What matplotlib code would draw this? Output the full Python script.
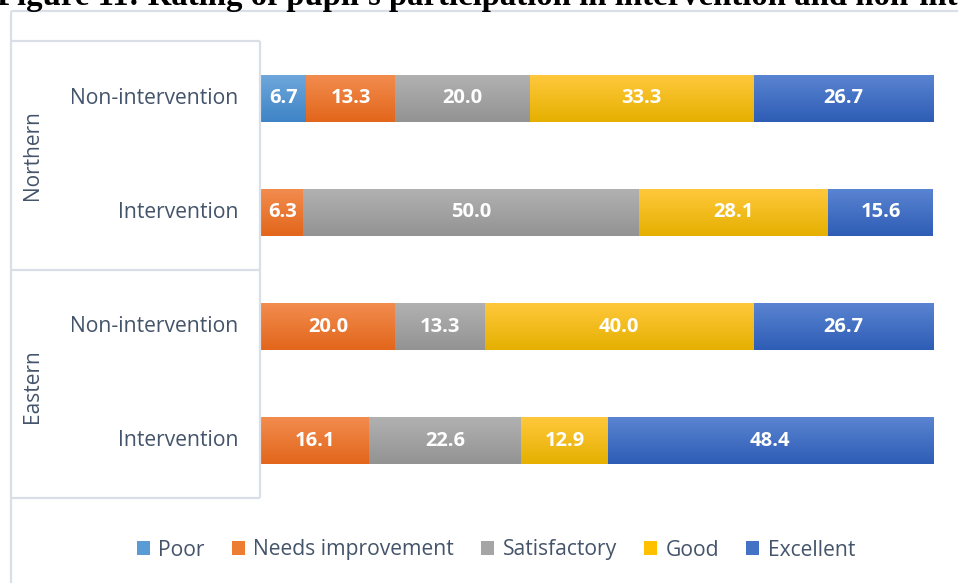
import numpy as np
import matplotlib
matplotlib.use('Agg')
import matplotlib.pyplot as plt
from matplotlib.colors import to_rgb
from matplotlib.lines import Line2D
from matplotlib.patches import Patch

# ratings (%) per region and group, top row first
regions = ['Northern', 'Eastern']
rows = ['Non-intervention', 'Intervention', 'Non-intervention', 'Intervention']
categories = ['Poor', 'Needs improvement', 'Satisfactory', 'Good', 'Excellent']
poor = [6.7, 0, 0, 0]
needs_improvement = [13.3, 6.3, 20.0, 16.1]
satisfactory = [20.0, 50.0, 13.3, 22.6]
good = [33.3, 28.1, 40.0, 12.9]
excellent = [26.7, 15.6, 26.7, 48.4]

series = [poor, needs_improvement, satisfactory, good, excellent]
base_colors = ['#5B9BD5', '#ED7D31', '#A5A5A5', '#FFC000', '#4472C4']
top_colors = ['#6EA7DB', '#F28C4E', '#B1B1B1', '#FFC83C', '#5A84D1']
bot_colors = ['#3E84C6', '#E2661B', '#939393', '#E5B000', '#2E5DB6']

text_col = '#44546A'
frame_col = '#DADFE7'

W, H = 958, 583
fig = plt.figure(figsize=(W / 100, H / 100), dpi=100)

def fx(px):
    return px / W

def fy(py):
    return 1 - py / H

ax = fig.add_axes([fx(261), fy(498), fx(933) - fx(261), fy(41) - fy(498)])
ax.set_xlim(0, 100)
ax.set_ylim(-0.5, 3.5)
ax.axis('off')

ypos = np.arange(len(rows))[::-1]
bar_h = 0.41

left = np.zeros(len(rows))
for vals, c, ct, cb in zip(series, base_colors, top_colors, bot_colors):
    vals = np.array(vals)
    bars = ax.barh(ypos, vals, left=left, height=bar_h, color=c, linewidth=0)
    grad = np.linspace(0, 1, 64)[:, None, None]
    img = (1 - grad) * np.array(to_rgb(ct)) + grad * np.array(to_rgb(cb))
    for b, v, y, l in zip(bars, vals, ypos, left):
        if v <= 0:
            continue
        im = ax.imshow(img, extent=(l, l + v, y - bar_h / 2, y + bar_h / 2),
                       aspect='auto', origin='upper', zorder=2)
        im.set_clip_path(b)
        ax.text(l + v / 2, y, f'{v:.1f}', ha='center', va='center',
                color='white', fontsize=14.5, fontweight='bold',
                family='Open Sans', zorder=3)
    left = left + vals
ax.set_xlim(0, 100)
ax.set_ylim(-0.5, 3.5)

# row labels
for y, name in zip(ypos, rows):
    ax.text(-23 / 6.72, y, name, ha='right', va='center', fontsize=15.2,
            color=text_col, family='Open Sans')

# frame lines
def fline(xs, ys):
    fig.add_artist(Line2D([fx(v) for v in xs], [fy(v) for v in ys],
                          color=frame_col, lw=1.6, solid_capstyle='butt'))

fline([11, 11], [11, 590])
fline([11, 970], [11, 11])
fline([11, 260], [41, 41])
fline([260, 260], [41, 498])
fline([11, 260], [270, 270])
fline([11, 260], [498, 498])

# region labels
fig.text(fx(33), fy(155), regions[0], rotation=90, ha='center', va='center',
         fontsize=15, color=text_col, family='Open Sans')
fig.text(fx(33), fy(386), regions[1], rotation=90, ha='center', va='center',
         fontsize=15, color=text_col, family='Open Sans')

# caption
fig.text(fx(-3), fy(5), "Figure 11: Rating of pupil's participation in intervention and non-intervention schools",
         ha='left', va='baseline', fontsize=23.6, fontweight='bold',
         family='Liberation Serif', color='black')

handles = [Patch(facecolor=c, edgecolor='none') for c in base_colors]
fig.legend(handles, categories, loc='center', bbox_to_anchor=(fx(496), fy(550)),
           ncol=5, frameon=False, handlelength=0.6, handleheight=0.6,
           handletextpad=0.4, columnspacing=1.3,
           prop={'family': 'Open Sans', 'size': 15.2}, labelcolor=text_col)

fig.savefig('out.png', dpi=100)
